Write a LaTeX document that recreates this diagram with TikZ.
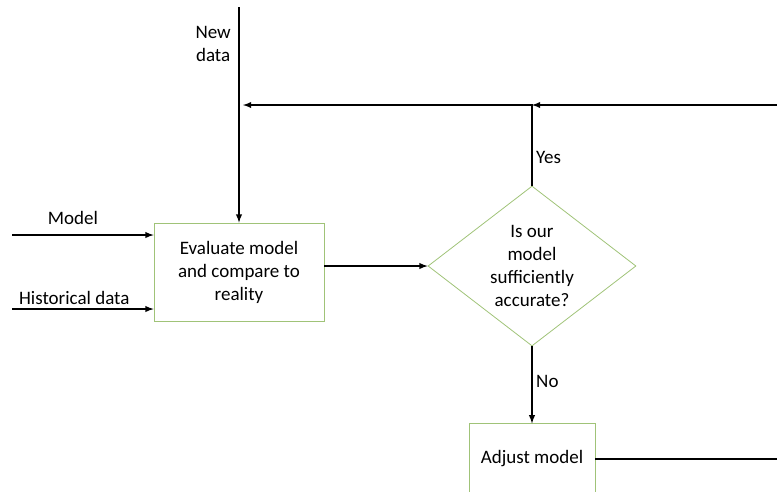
\documentclass[tikz,border=0pt]{standalone}
\usepackage{fontspec}
\setmainfont{Carlito}
\usetikzlibrary{arrows,shapes.geometric,positioning}
\definecolor{boxgreen}{RGB}{160,195,120}

\begin{document}
\begin{tikzpicture}[x=1pt,y=-1pt,
    every node/.style={font=\fontsize{19}{23}\selectfont},
    box/.style={draw=boxgreen, line width=0.8pt, align=center, inner sep=0pt},
    flow/.style={-latex, line width=1.8pt}]
          \clip (0,0) rectangle (777,491);
          \node[box, rectangle, minimum width=170pt, minimum height=98pt] at (239,272) (eval) {Evaluate model\\and compare to\\reality};
          \node[box, diamond, shape aspect=1.3, minimum width=208pt, minimum height=160pt] at (532,266) (check) {Is our\\model\\sufficiently\\accurate?};
          \node[box, rectangle, below=77pt of check, minimum width=126pt, minimum height=70pt] (adjust) {Adjust model};
          \coordinate (newdata) at (239,7);
          \coordinate (model) at (12,235);
          \coordinate (hist) at (12,309);
          \coordinate (loop) at (780,105);
          % inputs
          \draw[flow] (newdata) -- node[left=4pt, pos=0.17, align=center] {New\\data} (eval.north);
          \draw[flow] (model) -- node[above=6pt, pos=0.43] {Model} (model -| eval.west);
          \draw[flow] (hist) -- node[above, pos=0.44] {Historical data} (hist -| eval.west);
          \draw[flow] (eval.east |- check.west) -- (check.west);
          % decision
          \draw[flow, shorten >=4pt] (check.north) -- node[right, pos=0.35] {Yes} (check.north |- loop) -- (loop -| eval.north);
          \draw[flow] (check.south) -- node[right, pos=0.45] {No} (adjust.north);
          \draw[flow] (adjust.east) -- (adjust.east -| loop) -- (loop) -- (loop -| check.north);
        \end{tikzpicture}
\end{document}
